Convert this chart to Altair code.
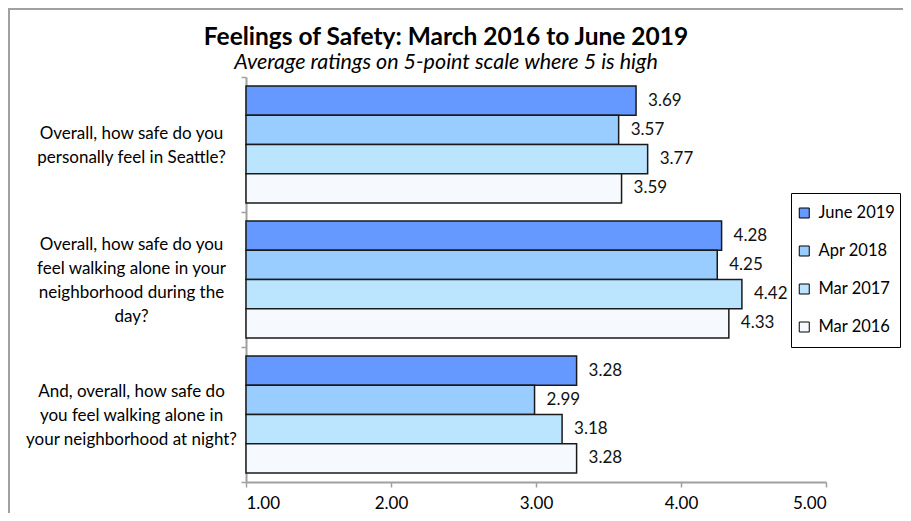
import altair as alt
import pandas as pd

questions = [
    "Overall, how safe do you|personally feel in Seattle?",
    "Overall, how safe do you|feel walking alone in your|neighborhood during the|day?",
    "And, overall, how safe do|you feel walking alone in|your neighborhood at night?",
]
series = ["June 2019", "Apr 2018", "Mar 2017", "Mar 2016"]
june_2019 = [3.69, 4.28, 3.28]
apr_2018 = [3.57, 4.25, 2.99]
mar_2017 = [3.77, 4.42, 3.18]
mar_2016 = [3.59, 4.33, 3.28]
colors = ["#6699FF", "#99CCFF", "#BBE4FF", "#F6FAFF"]
x_ticks = [1, 2, 3, 4, 5]

rows = []
for s, vals in zip(series, [june_2019, apr_2018, mar_2017, mar_2016]):
    for q, v in zip(questions, vals):
        rows.append({"question": q, "series": s, "value": v})
df = pd.DataFrame(rows)

FONT = "Lato"

y_enc = alt.Y(
    "question:N",
    sort=questions,
    scale=alt.Scale(paddingInner=0, paddingOuter=0),
    axis=alt.Axis(
        title=None,
        labelExpr="split(datum.label, '|')",
        labelAlign="center",
        labelBaseline="middle",
        labelPadding=110,
        labelLimit=300,
        labelLineHeight=24,
        labelFontSize=17,
        labelOffset=alt.ExprRef(expr="1 - (length(split(datum.value, '|')) - 1) * 12"),
        tickBand="extent",
        tickSize=5,
    ),
)
yoff_enc = alt.YOffset(
    "series:N", sort=series, scale=alt.Scale(paddingInner=0, paddingOuter=0.31)
)
x_enc = alt.X(
    "value:Q",
    scale=alt.Scale(domain=[1, 5], zero=False, nice=False),
    axis=alt.Axis(
        title=None,
        values=x_ticks,
        format=".2f",
        grid=False,
        tickSize=5,
        labelPadding=8,
        labelFontSize=17,
    ),
)

base = alt.Chart(df)

bars = base.mark_bar(stroke="#1a1a1a", strokeWidth=1.5).encode(
    y=y_enc,
    yOffset=yoff_enc,
    x=x_enc,
    x2=alt.datum(1),
    color=alt.Color(
        "series:N",
        sort=series,
        scale=alt.Scale(domain=series, range=colors),
        legend=alt.Legend(
            title=None,
            orient="none",
            legendX=545,
            legendY=116,
            strokeColor="#000000",
            fillColor="#ffffff",
            padding=5,
            rowPadding=8,
            clipHeight=30,
            symbolType="square",
            symbolSize=100,
            symbolStrokeColor="#000000",
            symbolStrokeWidth=1,
            labelFontSize=16.5,
            labelOffset=6,
            labelColor="#000000",
        ),
    ),
)

labels = base.mark_text(
    align="left", baseline="middle", dx=12, fontSize=17, color="#111111"
).encode(
    y=alt.Y("question:N", sort=questions),
    yOffset=alt.YOffset("series:N", sort=series),
    x=alt.X("value:Q"),
    text=alt.Text("value:Q", format=".2f"),
)

frame = alt.Chart(alt.Data(values=[{}])).mark_rect(
    fill="transparent", stroke="#a0a0a0", strokeWidth=2
).encode(
    x=alt.value(-237), x2=alt.value(700), y=alt.value(-68), y2=alt.value(500)
)

chart = (
    alt.layer(frame, bars, labels)
    .properties(
        width=580,
        height=405,
        autosize=alt.AutoSizeParams(type="none"),
        padding={"left": 238, "top": 69, "right": 77, "bottom": 31},
        title=alt.Title(
            "Feelings of Safety: March 2016 to June 2019",
            subtitle="Average ratings on 5-point scale where 5 is high",
            anchor="middle",
            dx=-90,
            dy=66,
            fontSize=24.5,
            fontWeight="bold",
            font=FONT,
            color="#000000",
            subtitleFont=FONT,
            subtitleFontSize=21.5,
            subtitleFontStyle="italic",
            subtitleColor="#000000",
            subtitlePadding=1,
            offset=0,
        ),
    )
    .configure(font=FONT)
    .configure_view(stroke="transparent")
    .configure_axis(
        domainColor="#a0a0a0",
        tickColor="#a0a0a0",
        domainWidth=2,
        tickWidth=1.5,
        labelColor="#000000",
        labelFont=FONT,
    )
    .configure_legend(labelFont=FONT)
)

chart.save("out.html", embed_options={"renderer": "svg", "actions": False})
